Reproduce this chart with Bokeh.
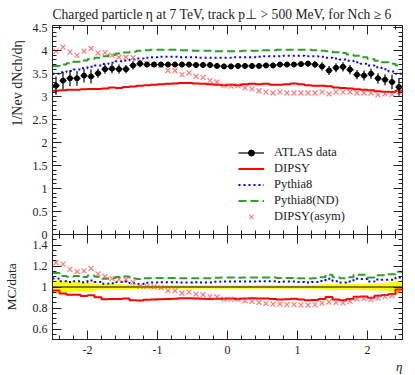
import numpy as np
from bokeh.plotting import figure
from bokeh.layouts import column
from bokeh.models import (FixedTicker, CustomJSTickFormatter, LinearAxis, Title,
                          Legend, LegendItem, Range1d, CustomLabelingPolicy)
from bokeh.embed import file_html
from bokeh.resources import INLINE

# ---------------- data ----------------
eta_edges = np.round(np.linspace(-2.5, 2.5, 51), 2)

atlas = [3.24, 3.35, 3.40, 3.40, 3.46, 3.44, 3.51, 3.60, 3.61, 3.60,
         3.60, 3.68, 3.72, 3.70, 3.70, 3.70, 3.70, 3.70, 3.70, 3.70,
         3.69, 3.69, 3.69, 3.67, 3.66, 3.66, 3.67, 3.67, 3.67, 3.67,
         3.68, 3.68, 3.70, 3.70, 3.70, 3.71, 3.72, 3.70, 3.66, 3.57,
         3.63, 3.65, 3.59, 3.48, 3.46, 3.50, 3.40, 3.37, 3.32, 3.21]
atlas_err = [0.20, 0.19, 0.17, 0.16, 0.15, 0.15, 0.10, 0.10, 0.10, 0.10,
             0.09, 0.09, 0.08, 0.06, 0.06, 0.06, 0.06, 0.06, 0.06, 0.06,
             0.06, 0.06, 0.06, 0.06, 0.06, 0.06, 0.06, 0.06, 0.06, 0.06,
             0.06, 0.06, 0.06, 0.06, 0.06, 0.06, 0.06, 0.07, 0.09, 0.10,
             0.10, 0.10, 0.10, 0.10, 0.11, 0.11, 0.11, 0.12, 0.16, 0.19]
dipsy = [3.13, 3.14, 3.15, 3.15, 3.16, 3.17, 3.17, 3.18, 3.20, 3.19,
         3.21, 3.22, 3.24, 3.25, 3.26, 3.27, 3.28, 3.29, 3.30, 3.30,
         3.29, 3.28, 3.27, 3.26, 3.25, 3.26, 3.25, 3.27, 3.28, 3.27,
         3.28, 3.26, 3.26, 3.27, 3.29, 3.27, 3.25, 3.24, 3.24, 3.23,
         3.20, 3.19, 3.18, 3.16, 3.15, 3.14, 3.12, 3.11, 3.10, 3.13]
pythia8 = [3.50, 3.53, 3.56, 3.59, 3.62, 3.65, 3.68, 3.71, 3.74, 3.77,
           3.79, 3.81, 3.83, 3.85, 3.86, 3.87, 3.87, 3.87, 3.86, 3.86,
           3.86, 3.85, 3.85, 3.85, 3.85, 3.85, 3.86, 3.86, 3.86, 3.87,
           3.88, 3.88, 3.88, 3.89, 3.89, 3.89, 3.88, 3.88, 3.87, 3.85,
           3.83, 3.81, 3.78, 3.75, 3.72, 3.68, 3.64, 3.60, 3.55, 3.50]
pythia8_nd = [3.67, 3.70, 3.73, 3.76, 3.79, 3.82, 3.85, 3.88, 3.91, 3.94,
              3.96, 3.98, 4.00, 4.01, 4.02, 4.02, 4.02, 4.02, 4.01, 4.01,
              4.00, 4.00, 4.00, 3.99, 3.99, 3.99, 3.99, 4.00, 4.00, 4.00,
              4.01, 4.01, 4.02, 4.02, 4.02, 4.02, 4.02, 4.01, 4.00, 3.99,
              3.97, 3.95, 3.92, 3.89, 3.86, 3.82, 3.78, 3.75, 3.72, 3.68]
dipsy_asym = [3.99, 4.08, 3.97, 3.90, 3.99, 4.05, 3.95, 3.96, 3.90, 3.86,
              3.86, 3.85, 3.74, 3.72, 3.70, 3.68, 3.57, 3.57, 3.48, 3.52,
              3.44, 3.42, 3.35, 3.32, 3.24, 3.23, 3.24, 3.19, 3.17, 3.13,
              3.10, 3.08, 3.10, 3.08, 3.08, 3.08, 3.08, 3.08, 3.10, 3.06,
              3.10, 3.10, 3.10, 3.08, 3.08, 3.08, 3.04, 3.06, 3.05, 3.10]

x_ticks = [-2, -1, 0, 1, 2]
x_minor = [round(v, 1) for v in np.arange(-2.4, 2.5, 0.2)]
y_ticks = [0, 0.5, 1, 1.5, 2, 2.5, 3, 3.5, 4, 4.5]
y_minor = [round(v, 1) for v in np.arange(0.0, 4.55, 0.1)]
r_ticks = [0.6, 0.8, 1.0, 1.2, 1.4]
r_minor = [round(v, 2) for v in np.arange(0.5, 1.51, 0.05)]

title_text = "Charged particle \u03b7 at 7 TeV, track p\u22a5 > 500 MeV, for Nch \u2265 6"
ylabel_top = "1/Nev dNch/d\u03b7"
ylabel_bot = "MC/data"
xlabel = "\u03b7"
names = ["ATLAS data", "DIPSY", "Pythia8", "Pythia8(ND)", "DIPSY(asym)"]

# ---------------- derived ----------------
lo = eta_edges[:-1]
hi = eta_edges[1:]
ctr = (lo + hi) / 2
A = np.array(atlas)
E = np.array(atlas_err)

def step_xy(vals):
    v = list(vals)
    return list(eta_edges), v + [v[-1]]

FONT = "Liberation Serif"
AX = "#222222"
RED = "#ff0000"
BLUE = "#0000ff"
GREEN = "#2ca02c"
PINK = "#ff4d4d"

fmt = CustomJSTickFormatter(code="return String(Math.round(tick*1000)/1000);")
no_labels = CustomLabelingPolicy(code="""
try { for (const i of indices) { indices.unset(i) } } catch (e) {}
return indices
""")

def style_axis(ax, labels=True):
    ax.axis_line_color = AX
    ax.major_tick_line_color = AX
    ax.minor_tick_line_color = AX
    ax.major_tick_in = 9
    ax.major_tick_out = 0
    ax.minor_tick_in = 4
    ax.minor_tick_out = 0
    ax.formatter = fmt
    if labels:
        ax.major_label_text_font = FONT
        ax.major_label_text_font_size = "12px"
        ax.major_label_text_color = "#222222"
    else:
        ax.major_label_text_font_size = "0px"
        ax.major_label_standoff = 0
        ax.major_label_policy = no_labels

W = 415
BL, BR = 51, 13
OVER = 7   # room below the upper frame so its "0" label is not cut

# ---------------- upper panel ----------------
xr = Range1d(-2.5, 2.5)
p = figure(width=W, height=234 + OVER, x_range=xr, y_range=Range1d(0, 4.55),
           output_backend="svg", toolbar_location=None,
           min_border_left=BL, min_border_right=BR, min_border_top=25, min_border_bottom=OVER,
           x_axis_location=None, y_axis_location=None)
p.title.text = title_text
p.title.text_font = FONT
p.title.text_font_size = "13.6px"
p.title.text_font_style = "normal"
p.title.text_color = "#222222"
p.title.align = "left"
p.title.standoff = 8
p.title.offset = 0
p.grid.visible = False
p.outline_line_color = AX

xt = FixedTicker(ticks=x_ticks, minor_ticks=x_minor)
yt = FixedTicker(ticks=y_ticks, minor_ticks=y_minor)
for loc, tk, lab in [("left", yt, True), ("right", yt, False), ("below", xt, False), ("above", xt, False)]:
    ax = LinearAxis(ticker=tk)
    style_axis(ax, lab)
    if lab:
        ax.major_label_standoff = 5
    p.add_layout(ax, loc)

p.add_layout(Title(text=ylabel_top + "\u2002\u2009", align="right", text_font=FONT, text_font_size="14px",
                   text_font_style="normal", text_color="#222222", standoff=10, offset=5), "left")

xs, ys = step_xy(dipsy)
r_dipsy = p.step(xs, ys, mode="after", line_color=RED, line_width=2)
xs, ys = step_xy(pythia8)
r_py = p.step(xs, ys, mode="after", line_color=BLUE, line_width=2, line_dash="2 3")
xs, ys = step_xy(pythia8_nd)
r_nd = p.step(xs, ys, mode="after", line_color=GREEN, line_width=2, line_dash="8 4")
r_asym = p.scatter(ctr, dipsy_asym, marker="x", size=7, line_color=PINK, line_alpha=0.75, line_width=1.2)

r_h = p.segment(lo, A, hi, A, line_color="black", line_width=1.2)
p.segment(ctr, A - E, ctr, A + E, line_color="black", line_width=1.2)
r_pts = p.scatter(ctr, A, size=5, fill_color="black", line_color="black")

legend = Legend(items=[
    LegendItem(label=names[0], renderers=[r_h, r_pts]),
    LegendItem(label=names[1], renderers=[r_dipsy]),
    LegendItem(label=names[2], renderers=[r_py]),
    LegendItem(label=names[3], renderers=[r_nd]),
    LegendItem(label=names[4], renderers=[r_asym]),
], location=(186, 10), glyph_width=26, glyph_height=15, label_height=15,
   label_standoff=10, spacing=1, padding=0, margin=0,
   border_line_alpha=0, background_fill_alpha=0,
   label_text_font=FONT, label_text_font_size="12.5px", label_text_color="#222222")
p.add_layout(legend)

# ---------------- ratio panel ----------------
q = figure(width=W, height=141, x_range=xr, y_range=Range1d(0.5, 1.5),
           output_backend="svg", toolbar_location=None,
           min_border_left=BL, min_border_right=BR, min_border_top=0, min_border_bottom=36,
           x_axis_location=None, y_axis_location=None)
q.margin = (-OVER, 0, 0, 0)
q.border_fill_alpha = 0
q.grid.visible = False
q.outline_line_color = AX
rt = FixedTicker(ticks=r_ticks, minor_ticks=r_minor)
for loc, tk, lab in [("left", rt, True), ("right", rt, False), ("below", xt, True), ("above", xt, False)]:
    ax = LinearAxis(ticker=tk)
    style_axis(ax, lab)
    if lab:
        ax.major_label_standoff = 6 if loc == "below" else 5
    if loc == "left":
        ax.axis_label = ylabel_bot
        ax.axis_label_text_font = FONT
        ax.axis_label_text_font_size = "13.5px"
        ax.axis_label_text_font_style = "normal"
        ax.axis_label_text_color = "#222222"
        ax.axis_label_standoff = 11
    q.add_layout(ax, loc)

q.add_layout(Title(text=xlabel, align="right", text_font=FONT, text_font_size="13px",
                   text_font_style="italic", text_color="#222222", standoff=0, offset=0), "below")

band = E / A
q.quad(left=lo, right=hi, bottom=1 - band, top=1 + band, fill_color="#ffff00", line_color=None)
xs, ys = step_xy(np.ones(50))
q.step(xs, ys, mode="after", line_color="black", line_width=1.2)
for vals, col, dash in [(dipsy, RED, "solid"), (pythia8, BLUE, "2 3"), (pythia8_nd, GREEN, "8 4")]:
    xs, ys = step_xy(np.array(vals) / A)
    q.step(xs, ys, mode="after", line_color=col, line_width=2, line_dash=dash)
q.scatter(ctr, np.array(dipsy_asym) / A, marker="x", size=7, line_color=PINK, line_alpha=0.75, line_width=1.2)

layout = column(p, q, spacing=0)
open("out.html", "w").write(file_html(layout, INLINE))
